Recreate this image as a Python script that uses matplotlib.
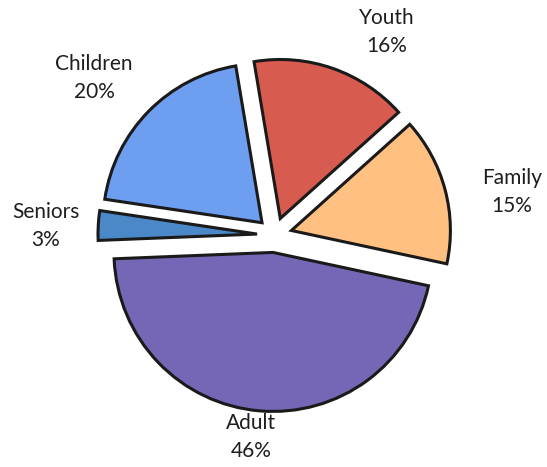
import matplotlib.pyplot as plt

plt.rcParams['font.family'] = ['Lato', 'DejaVu Sans']

# audience share
labels = ['Youth', 'Family', 'Adult', 'Seniors', 'Children']
shares = [16, 15, 46, 3, 20]
colors = ['#d85b50', '#ffc081', '#7666b6', '#4a88c8', '#6e9ef0']

# label anchor points (pixels, origin top-left)
label_xy = [(387, 32), (512, 192), (251, 437), (46, 226), (94, 78)]

W, H = 547, 467
R = 159
fig = plt.figure(figsize=(W / 100, H / 100), dpi=100)
ax = fig.add_axes([0, 0, 1, 1])

# pie offsets the exploded wedges in data units, so scale by the radius
wedges, _ = ax.pie(
    shares,
    colors=colors,
    explode=[0.11 * R] * len(shares),
    startangle=99.5,
    counterclock=False,
    center=(274.5, H - 235),
    radius=R,
    frame=True,
    wedgeprops=dict(edgecolor='#1a1a1a', linewidth=2.2, joinstyle='miter'),
)
ax.set_xlim(0, W)
ax.set_ylim(0, H)
ax.set_aspect('equal')
ax.axis('off')

for name, val, (x, y) in zip(labels, shares, label_xy):
    ax.text(x, H - y, f'{name}\n{val}%', ha='center', va='center',
            fontsize=15, color='#1e1e1e', linespacing=1.45)

plt.savefig('out.png', dpi=100)
plt.close()
